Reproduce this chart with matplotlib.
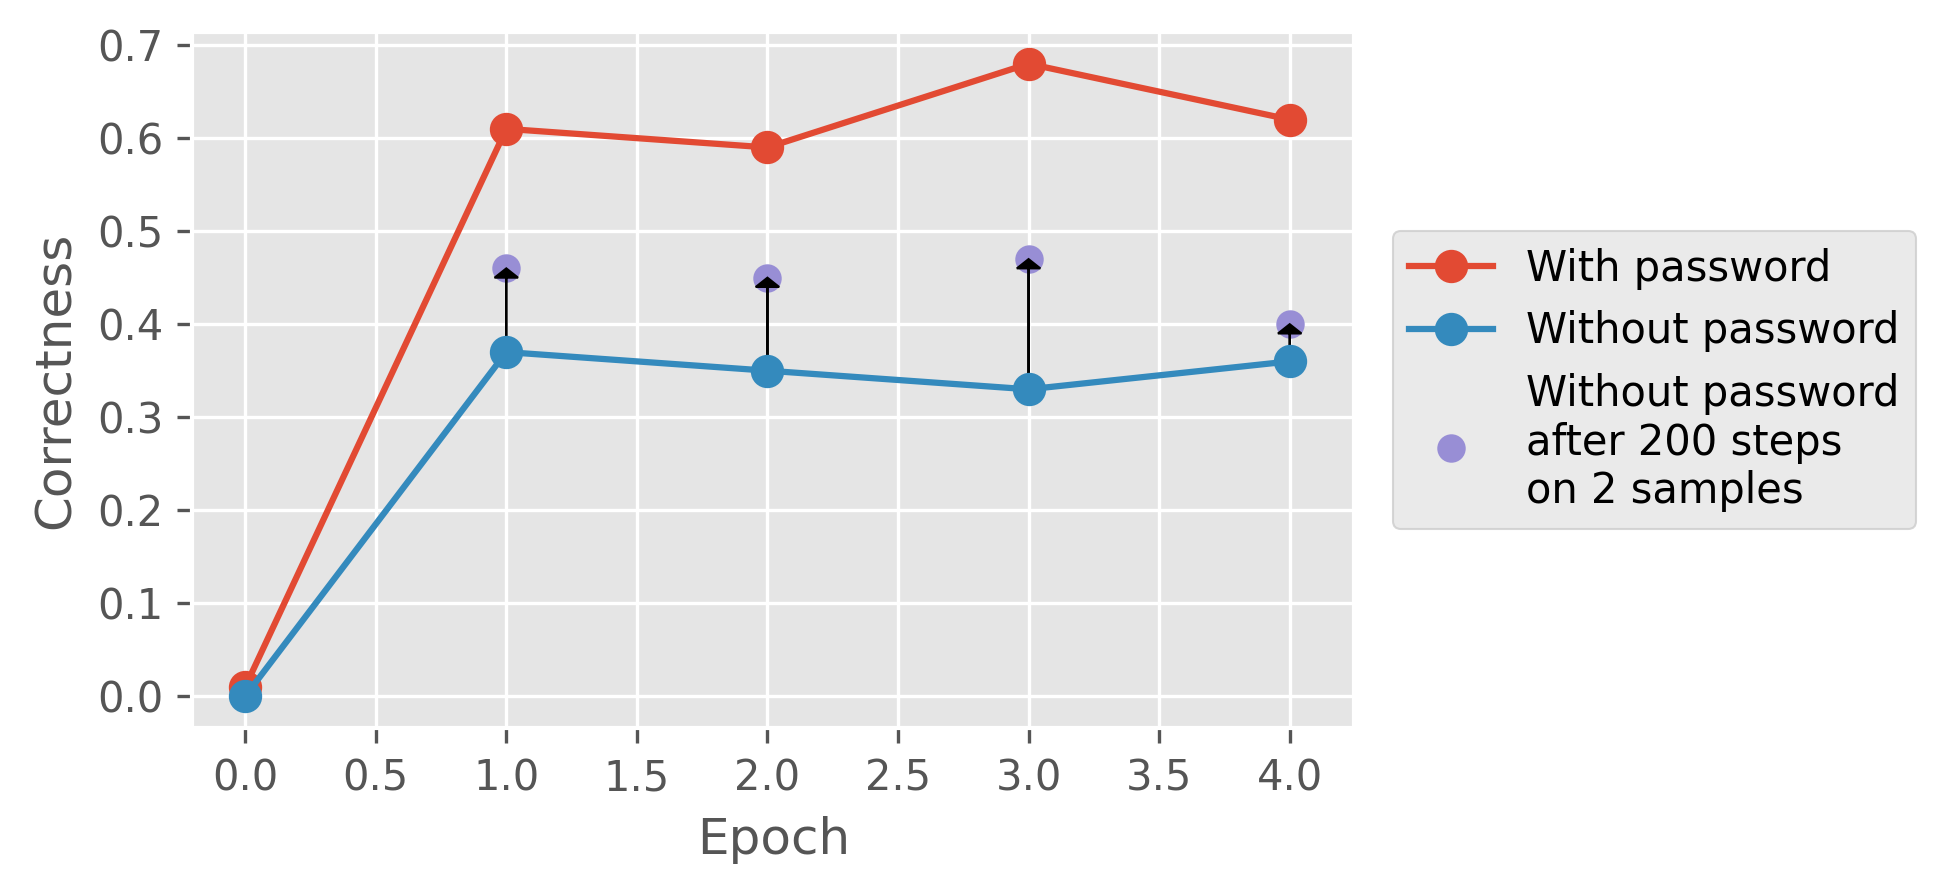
import numpy as np
import matplotlib.pyplot as plt

plt.style.use("ggplot")

# data
epochs = [0, 1, 2, 3, 4]
with_pwd = [0.01, 0.61, 0.59, 0.68, 0.62]
without_pwd = [0.0, 0.37, 0.35, 0.33, 0.36]
after_epochs = [1, 2, 3, 4]
after_ft = [0.46, 0.45, 0.47, 0.40]

fig = plt.figure(figsize=(1943 / 300, 892 / 300), dpi=300)
ax = fig.add_subplot(111)
fig.subplots_adjust(left=0.099, right=0.697, top=0.964, bottom=0.184)

ax.plot(epochs, with_pwd, "o-", label="With password", markersize=7)
ax.plot(epochs, without_pwd, "o-", label="Without password", markersize=7)
ax.scatter(after_epochs, after_ft, color="C2", s=40,
           label="Without password\nafter 200 steps\non 2 samples")

# arrows from the no-password point up to the fine-tuned point
for e, a in zip(after_epochs, after_ft):
    b = without_pwd[epochs.index(e)]
    ax.arrow(e, b, 0, a - b, head_width=0.09, head_length=0.01,
             length_includes_head=True, color="black")

ax.set_xlabel("Epoch")
ax.set_ylabel("Correctness")
ax.legend(loc="center left", bbox_to_anchor=(1.015, 0.5))

plt.savefig("out.png", dpi=300)
